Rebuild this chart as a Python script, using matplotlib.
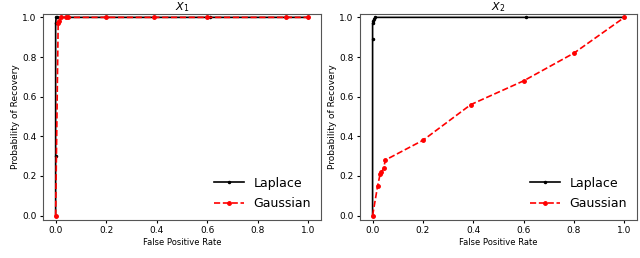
import matplotlib
matplotlib.use('Agg')
import matplotlib.pyplot as plt

# X1 curves
lap1_fpr = [0.0, 0.0, 0.0, 0.002, 0.005, 0.61, 1.0]
lap1_tpr = [0.0, 0.3, 0.97, 1.0, 1.0, 1.0, 1.0]
gau1_fpr = [0.0, 0.01, 0.015, 0.02, 0.04, 0.05, 0.2, 0.39, 0.6, 0.91, 1.0]
gau1_tpr = [0.0, 0.97, 0.98, 1.0, 1.0, 1.0, 1.0, 1.0, 1.0, 1.0, 1.0]

# X2 curves
lap2_fpr = [0.0, 0.0, 0.0, 0.003, 0.005, 0.01, 0.61, 1.0]
lap2_tpr = [0.0, 0.89, 0.97, 0.98, 0.99, 1.0, 1.0, 1.0]
gau2_fpr = [0.0, 0.02, 0.03, 0.035, 0.045, 0.05, 0.2, 0.39, 0.6, 0.8, 1.0]
gau2_tpr = [0.0, 0.15, 0.21, 0.22, 0.24, 0.28, 0.38, 0.56, 0.68, 0.82, 1.0]

titles = ['$X_1$', '$X_2$']
ticks = [0.0, 0.2, 0.4, 0.6, 0.8, 1.0]

fig = plt.figure(figsize=(6.4, 2.58), dpi=100)
ax1 = fig.add_axes([43/640, 1-220/258, 278/640, 206/258])
ax2 = fig.add_axes([360/640, 1-220/258, 277/640, 206/258])

data = [(lap1_fpr, lap1_tpr, gau1_fpr, gau1_tpr),
        (lap2_fpr, lap2_tpr, gau2_fpr, gau2_tpr)]

for ax, (lf, lt, gf, gt), t in zip([ax1, ax2], data, titles):
    ax.plot(lf, lt, 'k.-', lw=1.2, ms=3, label='Laplace')
    ax.plot(gf, gt, 'r.--', lw=1.2, ms=5, label='Gaussian')
    ax.set_title(t, fontsize=8, pad=3)
    ax.set_xlabel('False Positive Rate', fontsize=6, labelpad=2)
    ax.set_ylabel('Probability of Recovery', fontsize=6.5, labelpad=2)
    ax.set_xticks(ticks)
    ax.set_yticks(ticks)
    ax.tick_params(labelsize=6.5, length=2.5, pad=2)
    ax.set_xlim(-0.05, 1.05)
    ax.set_ylim(-0.022, 1.017)
    for s in ax.spines.values():
        s.set_color('#555555')
    ax.legend(loc='lower right', fontsize=9, frameon=False,
              handlelength=2.4, borderaxespad=0.4, labelspacing=0.6)

plt.savefig('out.png', dpi=100)
